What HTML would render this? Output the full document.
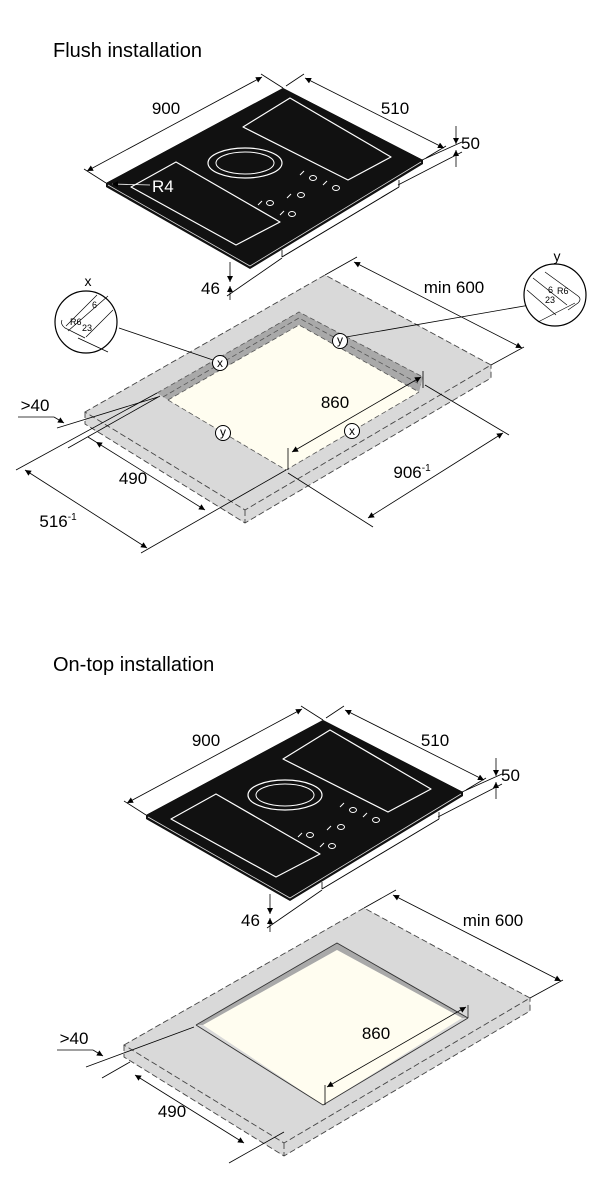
<!DOCTYPE html>
<html><head><meta charset="utf-8"><style>
html,body{margin:0;padding:0;background:#fff;}
svg{display:block;font-family:"Liberation Sans",Arial,sans-serif;}
</style></head><body>
<svg width="607" height="1200" viewBox="0 0 607 1200" xmlns="http://www.w3.org/2000/svg">
<defs>
<marker id="a" viewBox="0 0 10 10" refX="10" refY="5" markerWidth="11" markerHeight="6" markerUnits="userSpaceOnUse" orient="auto-start-reverse"><path d="M0,0 L10,5 L0,10 z" fill="#000"/></marker>
<g id="hob">
  <polygon points="106,183 283,88 423,160 423,164 250,269 106,187" fill="#111"/>
  <polyline points="108,185 250,266 421,162" fill="none" stroke="#ddd" stroke-width="0.8"/>
  <polygon points="106,183 283,88 423,160 250,265" fill="#111"/>
  <line x1="399" y1="187" x2="282" y2="257" stroke="#000" stroke-width="1"/>
  <line x1="399" y1="180" x2="399" y2="187" stroke="#000" stroke-width="0.8"/>
  <line x1="282" y1="250" x2="282" y2="257" stroke="#000" stroke-width="0.8"/>
  <polygon points="290,98 391,157 348,180 243,127" fill="none" stroke="#fff" stroke-width="1.2" stroke-linejoin="round"/>
  <polygon points="176,162 280,222 236,245 131,187" fill="none" stroke="#fff" stroke-width="1.2" stroke-linejoin="round"/>
  <ellipse cx="245" cy="163" rx="37" ry="15" fill="none" stroke="#fff" stroke-width="1.2"/>
  <ellipse cx="245" cy="163" rx="29" ry="11" fill="none" stroke="#fff" stroke-width="1"/>
  <g fill="none" stroke="#fff" stroke-width="1">
    <path d="M300,175 l4,-4"/><ellipse cx="313" cy="178" rx="3.5" ry="2.5"/>
    <path d="M323,185 l4,-4"/><ellipse cx="336" cy="188" rx="3.5" ry="2.5"/>
    <ellipse cx="301" cy="195" rx="3.5" ry="2.5"/><path d="M287,198 l4,-4"/>
    <path d="M258,205 l4,-4"/><ellipse cx="270" cy="203" rx="3.5" ry="2.5"/>
    <path d="M280,215 l4,-4"/><ellipse cx="292" cy="214" rx="3.5" ry="2.5"/>
  </g>
  <line x1="106" y1="183" x2="84" y2="169" stroke="#000" stroke-width="0.8"/>
  <line x1="283" y1="88" x2="261" y2="74" stroke="#000" stroke-width="0.8"/>
  <line x1="87" y1="171" x2="262" y2="77" stroke="#000" stroke-width="0.8" marker-start="url(#a)" marker-end="url(#a)"/>
  <text x="166" y="114" font-size="17" text-anchor="middle">900</text>
  <line x1="286" y1="86" x2="304" y2="74" stroke="#000" stroke-width="0.8"/>
  <line x1="426" y1="158" x2="446" y2="146" stroke="#000" stroke-width="0.8"/>
  <line x1="305" y1="78" x2="444" y2="148" stroke="#000" stroke-width="0.8" marker-start="url(#a)" marker-end="url(#a)"/>
  <text x="395" y="114" font-size="17" text-anchor="middle">510</text>
  <line x1="422" y1="160" x2="462" y2="142" stroke="#000" stroke-width="0.8"/>
  <line x1="398" y1="185" x2="462" y2="152" stroke="#000" stroke-width="0.8"/>
  <line x1="456" y1="126" x2="456" y2="144" stroke="#000" stroke-width="0.8" marker-end="url(#a)"/>
  <line x1="456" y1="167" x2="456" y2="150" stroke="#000" stroke-width="0.8" marker-end="url(#a)"/>
  <text x="461" y="149" font-size="17">50</text>
  <line x1="227" y1="296" x2="282" y2="258" stroke="#000" stroke-width="0.8"/>
  <line x1="230" y1="262" x2="230" y2="282" stroke="#000" stroke-width="0.8" marker-end="url(#a)"/>
  <line x1="230" y1="300" x2="230" y2="286" stroke="#000" stroke-width="0.8" marker-end="url(#a)"/>
  <text x="201" y="294" font-size="17">46</text>
</g>
<g id="top">
  <polygon points="85,412 325,275 491,365 491,378 245,523 85,424" fill="#d9d9d9"/>
  <g fill="none" stroke="#444" stroke-width="0.9" stroke-dasharray="6,3">
    <polygon points="85,412 325,275 491,365 245,510"/>
    <polyline points="85,412 85,424 245,523 491,378 491,365"/>
    <line x1="245" y1="510" x2="245" y2="523"/>
  </g>
  <line x1="325" y1="275" x2="357" y2="257" stroke="#000" stroke-width="0.8"/>
  <line x1="491" y1="365" x2="524" y2="347" stroke="#000" stroke-width="0.8"/>
  <line x1="354" y1="262" x2="522" y2="348" stroke="#000" stroke-width="0.8" marker-start="url(#a)" marker-end="url(#a)"/>
  <text x="454" y="293" font-size="17" text-anchor="middle">min 600</text>
  <text x="35" y="411" font-size="17" text-anchor="middle">&gt;40</text>
  <line x1="18" y1="417" x2="54" y2="417" stroke="#000" stroke-width="0.8"/>
  <line x1="54" y1="417" x2="64" y2="423" stroke="#000" stroke-width="0.8" marker-end="url(#a)"/>
  <line x1="96" y1="442" x2="205" y2="510" stroke="#000" stroke-width="0.8" marker-start="url(#a)" marker-end="url(#a)"/>
  <text x="133" y="484" font-size="17" text-anchor="middle">490</text>
</g>
</defs>

<text x="53" y="57" font-size="20">Flush installation</text>
<use href="#hob"/>
<text x="152" y="192" font-size="17" fill="#fff">R4</text>
<line x1="150" y1="185" x2="112" y2="184" stroke="#fff" stroke-width="0.8" marker-end="url(#a)"/>

<use href="#top"/>
<polygon points="157,393 299,312 423,377 419,392 299,325 168,400" fill="#a9a9a9"/>
<polygon points="168,400 299,325 419,392 286,470" fill="#fffdf0"/>
<g fill="none" stroke="#555" stroke-width="0.8" stroke-dasharray="5,3">
  <polyline points="157,393 299,312 423,377"/>
  <polyline points="163,397 299,318 421,385"/>
  <polyline points="168,400 299,325 419,392"/>
  <polyline points="168,400 286,470 419,392"/>
</g>
<line x1="16" y1="470" x2="157" y2="393" stroke="#000" stroke-width="0.8"/>
<line x1="57" y1="428" x2="158" y2="397" stroke="#000" stroke-width="0.8"/>
<line x1="68" y1="448" x2="160" y2="396" stroke="#000" stroke-width="0.8"/>
<line x1="96" y1="442" x2="88" y2="437" stroke="#000" stroke-width="0.8"/>
<line x1="25" y1="470" x2="147" y2="548" stroke="#000" stroke-width="0.8" marker-start="url(#a)" marker-end="url(#a)"/>
<line x1="141" y1="553" x2="286" y2="470" stroke="#000" stroke-width="0.8"/>
<text x="58" y="527" font-size="17" text-anchor="middle">516<tspan font-size="10" dy="-7">-1</tspan></text>
<line x1="288" y1="448" x2="288" y2="470" stroke="#000" stroke-width="0.8"/>
<line x1="423" y1="371" x2="423" y2="388" stroke="#000" stroke-width="0.8"/>
<line x1="292" y1="452" x2="421" y2="377" stroke="#000" stroke-width="0.8" marker-start="url(#a)" marker-end="url(#a)"/>
<text x="335" y="408" font-size="17" text-anchor="middle">860</text>
<line x1="288" y1="473" x2="373" y2="527" stroke="#000" stroke-width="0.8"/>
<line x1="425" y1="385" x2="509" y2="435" stroke="#000" stroke-width="0.8"/>
<line x1="368" y1="518" x2="503" y2="433" stroke="#000" stroke-width="0.8" marker-start="url(#a)" marker-end="url(#a)"/>
<text x="412" y="478" font-size="17" text-anchor="middle">906<tspan font-size="10" dy="-7">-1</tspan></text>
<line x1="119" y1="328" x2="213" y2="360" stroke="#000" stroke-width="0.8"/>
<line x1="530" y1="305" x2="346" y2="337" stroke="#000" stroke-width="0.8"/>
<g fill="#fff" stroke="#000" stroke-width="1">
<circle cx="220" cy="363" r="7.5"/><circle cx="340" cy="341" r="7.5"/>
<circle cx="223" cy="433" r="7.5"/><circle cx="352" cy="431" r="7.5"/>
</g>
<g font-size="12" text-anchor="middle">
<text x="220" y="367">x</text><text x="340" y="344">y</text>
<text x="223" y="436">y</text><text x="352" y="435">x</text>
</g>
<circle cx="86" cy="322" r="31" fill="#fff" stroke="#000" stroke-width="1.2"/>
<g stroke="#000" stroke-width="0.7" fill="none">
<path d="M66,326 L97,295 M68,331 L108,296 M86,337 L113,310 M78,338 L108,352"/>
<path d="M62,320 q-2,4 3,8 L85,338"/>
</g>
<text x="70" y="325" font-size="9">R6</text><text x="92" y="308" font-size="9">6</text><text x="82" y="331" font-size="9">23</text>
<text x="88" y="286" font-size="14" text-anchor="middle">x</text>
<circle cx="555" cy="295" r="31" fill="#fff" stroke="#000" stroke-width="1.2"/>
<g stroke="#000" stroke-width="0.7" fill="none">
<path d="M533,278 L567,305 M527,290 L556,315 M545,272 L578,296 q4,3 0,7 L568,310 M538,322 L575,303"/>
</g>
<text x="548" y="293" font-size="9">6</text><text x="557" y="294" font-size="9">R6</text><text x="545" y="303" font-size="9">23</text>
<text x="557" y="261" font-size="14" text-anchor="middle">y</text>

<text x="53" y="671" font-size="20">On-top installation</text>
<use href="#hob" transform="translate(40,632)"/>
<use href="#top" transform="translate(39,633)"/>
<polygon points="196,1025 337,943 468,1018 462,1018 337,950 203,1025" fill="#a9a9a9"/>
<polygon points="203,1025 337,950 462,1018 323,1105" fill="#fffdf0"/>
<g fill="none" stroke="#333" stroke-width="0.9">
<polyline points="196,1025 337,943 468,1018"/>
<polyline points="196,1025 323,1105 468,1018"/>
<line x1="468" y1="1018" x2="468" y2="1005"/>
</g>
<line x1="86" y1="1067" x2="194" y2="1027" stroke="#000" stroke-width="0.8"/>
<line x1="102" y1="1078" x2="130" y2="1062" stroke="#000" stroke-width="0.8"/>
<line x1="229" y1="1163" x2="284" y2="1132" stroke="#000" stroke-width="0.8"/>
<line x1="325" y1="1085" x2="325" y2="1105" stroke="#000" stroke-width="0.8"/>
<line x1="327" y1="1087" x2="466" y2="1007" stroke="#000" stroke-width="0.8" marker-start="url(#a)" marker-end="url(#a)"/>
<text x="376" y="1039" font-size="17" text-anchor="middle">860</text>
</svg>
</body></html>
